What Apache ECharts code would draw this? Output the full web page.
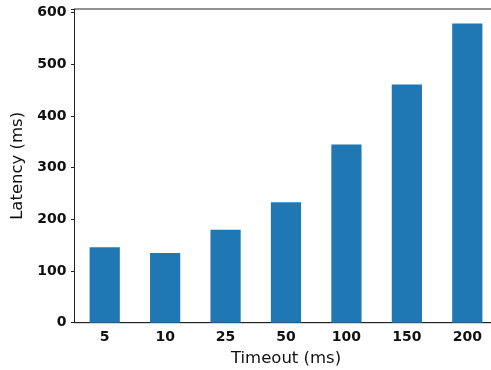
<!DOCTYPE html>
<html><head><meta charset="utf-8">
<script src="https://cdn.jsdelivr.net/npm/echarts@6/dist/echarts.min.js"></script>
<style>html,body{margin:0;padding:0;background:#fff}#c{width:491px;height:370px}</style>
</head><body><div id="c"></div>
<script>
const categories = ['5','10','25','50','100','150','200'];
const latency = [146, 135, 180, 233, 345, 461, 579];
const yTicks = [0,100,200,300,400,500,600];

const chart = echarts.init(document.getElementById('c'), null, {renderer:'canvas'});
chart.setOption({
  animation:false,
  grid:{left:74.5, top:9, width:423, height:313.7, containLabel:false, outerBoundsMode:'none',
        show:true, borderColor:'#222', borderWidth:1, backgroundColor:'transparent'},
  xAxis:{
    type:'category', data:categories,
    name:'Timeout (ms)', nameLocation:'middle', nameGap:27.5,
    nameTextStyle:{fontFamily:'DejaVu Sans', fontSize:16.5, color:'#111'},
    axisLine:{lineStyle:{color:'#222', width:1}},
    axisTick:{alignWithLabel:true, length:3.5, lineStyle:{color:'#222'}},
    axisLabel:{fontFamily:'DejaVu Sans', fontWeight:'bold', fontSize:14, color:'#111', margin:8}
  },
  yAxis:{
    type:'value', min:0, max:607, interval:100,
    name:'Latency (ms)', nameLocation:'middle', nameGap:44,
    nameTextStyle:{fontFamily:'DejaVu Sans', fontSize:16.5, color:'#111'},
    axisLine:{show:true, lineStyle:{color:'#222', width:1}},
    axisTick:{show:true, length:3.5, lineStyle:{color:'#222'}},
    splitLine:{show:false},
    axisLabel:{fontFamily:'DejaVu Sans', fontWeight:'bold', fontSize:14, color:'#111', margin:8,
      formatter:v => yTicks.includes(v) ? String(v) : ''}
  },
  series:[{type:'bar', data:latency, barWidth:'50%', itemStyle:{color:'#1f77b4'}}]
});
</script></body></html>
